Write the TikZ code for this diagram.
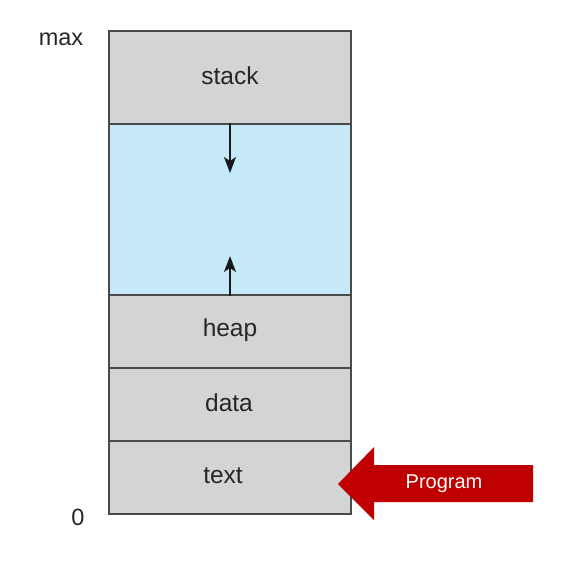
\documentclass[tikz,border=0pt]{standalone}
\usepackage{fontspec}
\setmainfont{Liberation Sans}
\usetikzlibrary{arrows.meta}
\definecolor{seggray}{HTML}{D3D4D6}
\definecolor{segblue}{HTML}{C6E9F9}
\definecolor{segline}{HTML}{4A4A4A}
\definecolor{progred}{HTML}{C00000}
\tikzset{
  seg/.style={draw=segline, line width=1.2pt, fill=seggray, minimum width=242pt, inner sep=0pt, font=\fontsize{24.5}{28}\selectfont, text=black!85},
  seglabel/.style={font=\fontsize{24.5}{28}\selectfont, text=black!85, inner sep=0pt},
  lbl/.style={font=\fontsize{23.5}{28}\selectfont, text=black!85},
  growarrow/.style={-{Stealth[length=16pt,width=12pt,inset=4pt]}, line width=1.8pt, black!90}
}
\begin{document}
\begin{tikzpicture}[x=1pt,y=-1pt]
\useasboundingbox (0,0) rectangle (564,573);
\node[seg, minimum height=93pt] (stack) at (230,77.5) {};
\node[seg, fill=segblue, minimum height=171pt] (free) at (230,209.5) {};
\node[seg, minimum height=73pt] (heap) at (230,331.5) {};
\node[seg, minimum height=73pt] (data) at (230,404.5) {};
\node[seg, minimum height=73pt] (text) at (230,477.5) {};
\node[seglabel] (stacklbl) at (230,75.5) {stack};
\node[seglabel] (heaplbl) at (230,330) {heap};
\node[seglabel] (datalbl) at (229,403) {data};
\node[seglabel] (textlbl) at (223,476) {text};
\coordinate (downend) at (230,173);
\coordinate (upend) at (230,256);
\draw[growarrow] (free.north) -- (downend);
\draw[growarrow] (free.south) -- (upend);
\node[lbl] (max) at (61,39) {max};
\node[lbl] (zero) at (78,517) {0};
\fill[progred] (338,484) -- (374,447) -- (374,465) -- (533,465) -- (533,502) -- (374,502) -- (374,520) -- cycle;
\node[font=\fontsize{20}{24}\selectfont, text=white] (prog) at (444,484) {Program};
\end{tikzpicture}
\end{document}
